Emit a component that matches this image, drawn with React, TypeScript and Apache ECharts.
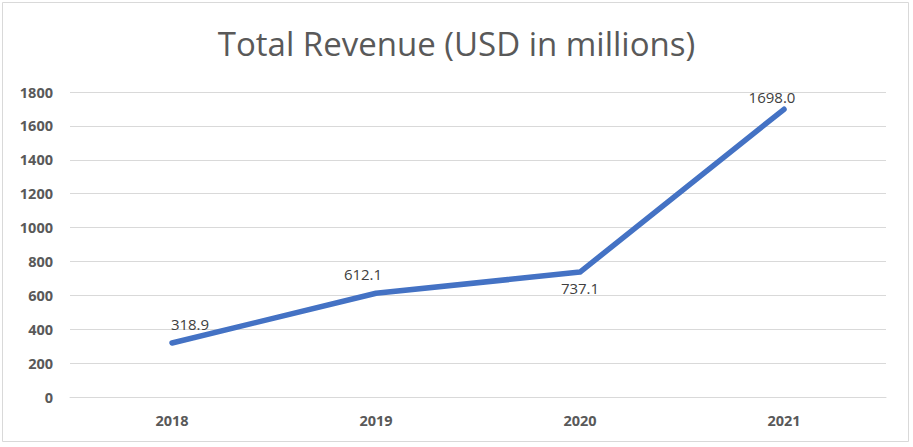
import React, { useEffect, useRef } from "react";
import * as echarts from "echarts";

const categories = ["2018", "2019", "2020", "2021"];
const revenue = [318.9, 612.1, 737.1, 1698.0];
const yTicks = { min: 0, max: 1800, interval: 200 };

export default function App() {
  const ref = useRef<HTMLDivElement>(null);
  useEffect(() => {
    if (!ref.current) return;
    const chart = echarts.init(ref.current, null, { renderer: "svg" });
    const labelCfg = [
      { show: true, position: "top", distance: 10, offset: [18, 0] },
      { show: true, position: "top", distance: 10, offset: [-13, 0] },
      { show: true, position: "bottom", distance: 7, offset: [0, 0] },
      { show: true, position: "top", distance: 3, offset: [-12, 0] },
    ];
    chart.setOption({
      animation: false,
      backgroundColor: "#ffffff",
      title: {
        text: "Total Revenue (USD in millions)",
        left: "center",
        top: 22,
        textStyle: {
          fontFamily: "Open Sans",
          fontWeight: 400,
          fontSize: 33,
          color: "#595959",
        },
      },
      graphic: [
        {
          type: "rect",
          shape: { x: 2.5, y: 2.5, width: 906, height: 439 },
          style: { fill: "none", stroke: "#d9d9d9", lineWidth: 1 },
          silent: true,
        },
      ],
      grid: { left: 70, right: 27, top: 92, bottom: 50 },
      xAxis: {
        type: "category",
        data: categories,
        boundaryGap: true,
        axisLine: { lineStyle: { color: "#d9d9d9", width: 1 } },
        axisTick: { show: false },
        axisLabel: {
          margin: 16,
          fontFamily: "Open Sans",
          fontWeight: "bold",
          fontSize: 14.5,
          color: "#595959",
        },
      },
      yAxis: {
        type: "value",
        min: yTicks.min,
        max: yTicks.max,
        interval: yTicks.interval,
        axisLine: { show: false },
        axisTick: { show: false },
        splitLine: { lineStyle: { color: "#d9d9d9", width: 1 } },
        axisLabel: {
          margin: 17,
          formatter: (v: number) => String(v),
          fontFamily: "Open Sans",
          fontWeight: "bold",
          fontSize: 14.5,
          color: "#595959",
        },
      },
      series: [
        {
          type: "line",
          data: revenue.map((v, i) => ({
            value: v,
            label: labelCfg[i],
          })),
          symbol: "circle",
          symbolSize: 3,
          showSymbol: true,
          itemStyle: { color: "#4472C4" },
          lineStyle: { color: "#4472C4", width: 5.5, cap: "round", join: "round" },
          label: {
            show: true,
            formatter: (p: any) => Number(p.value).toFixed(1),
            fontFamily: "Open Sans",
            fontSize: 15,
            color: "#404040",
          },
        },
      ],
    });
    return () => chart.dispose();
  }, []);
  return (
    <div
      ref={ref}
      style={{ position: "fixed", left: 0, top: 0, width: 913, height: 447 }}
    />
  );
}
